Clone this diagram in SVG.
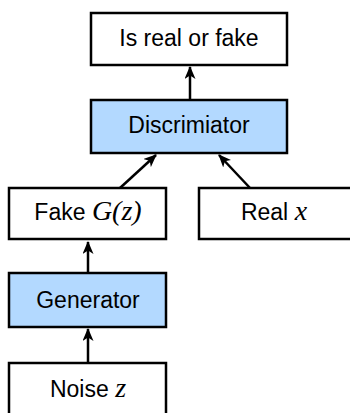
<svg xmlns="http://www.w3.org/2000/svg" width="350" height="413" viewBox="0 0 350 413">
<defs>
<style>
.box{fill:#fff;stroke:#000;stroke-width:2.5}
.blue{fill:#b3d9ff}
.t{font-family:"Liberation Sans",Arial,sans-serif;font-size:23px;text-anchor:middle;fill:#000}
.m{font-family:"Liberation Serif","Times New Roman",serif;font-style:italic;font-size:28px}
.c{stroke:#000;stroke-width:2.5;fill:none;marker-end:url(#ah)}
</style>
<marker id="ah" viewBox="0 0 13 11" refX="12" refY="5.5" markerWidth="13" markerHeight="11" orient="auto" markerUnits="userSpaceOnUse">
<path d="M0,0 L13,5.5 L0,11 L3.5,5.5 z" fill="#000"/>
</marker>
</defs>
<g id="connectors">
<line class="c" x1="190" y1="100" x2="190" y2="67"/>
<line class="c" x1="120" y1="188" x2="156" y2="155"/>
<line class="c" x1="250" y1="188" x2="219" y2="155"/>
<line class="c" x1="88" y1="273" x2="88" y2="242"/>
<line class="c" x1="88" y1="363" x2="88" y2="329"/>
</g>
<g id="out">
<rect class="box" x="91" y="13" width="196" height="52"/>
<text class="t" x="189" y="46">Is real or fake</text>
</g>
<g id="disc">
<rect class="box blue" x="91" y="100" width="196" height="53"/>
<text class="t" x="189" y="133">Discrimiator</text>
</g>
<g id="fake">
<rect class="box" x="9" y="188" width="157" height="51"/>
<text class="t" x="88" y="220">Fake <tspan class="m">G(z)</tspan></text>
</g>
<g id="real">
<rect class="box" x="199" y="188" width="160" height="51"/>
<text class="t" x="274" y="220">Real <tspan class="m">x</tspan></text>
</g>
<g id="gen">
<rect class="box blue" x="9" y="273" width="157" height="54"/>
<text class="t" x="88" y="308">Generator</text>
</g>
<g id="noise">
<rect class="box" x="9" y="363" width="157" height="60"/>
<text class="t" x="88" y="397">Noise <tspan class="m">z</tspan></text>
</g>
</svg>
